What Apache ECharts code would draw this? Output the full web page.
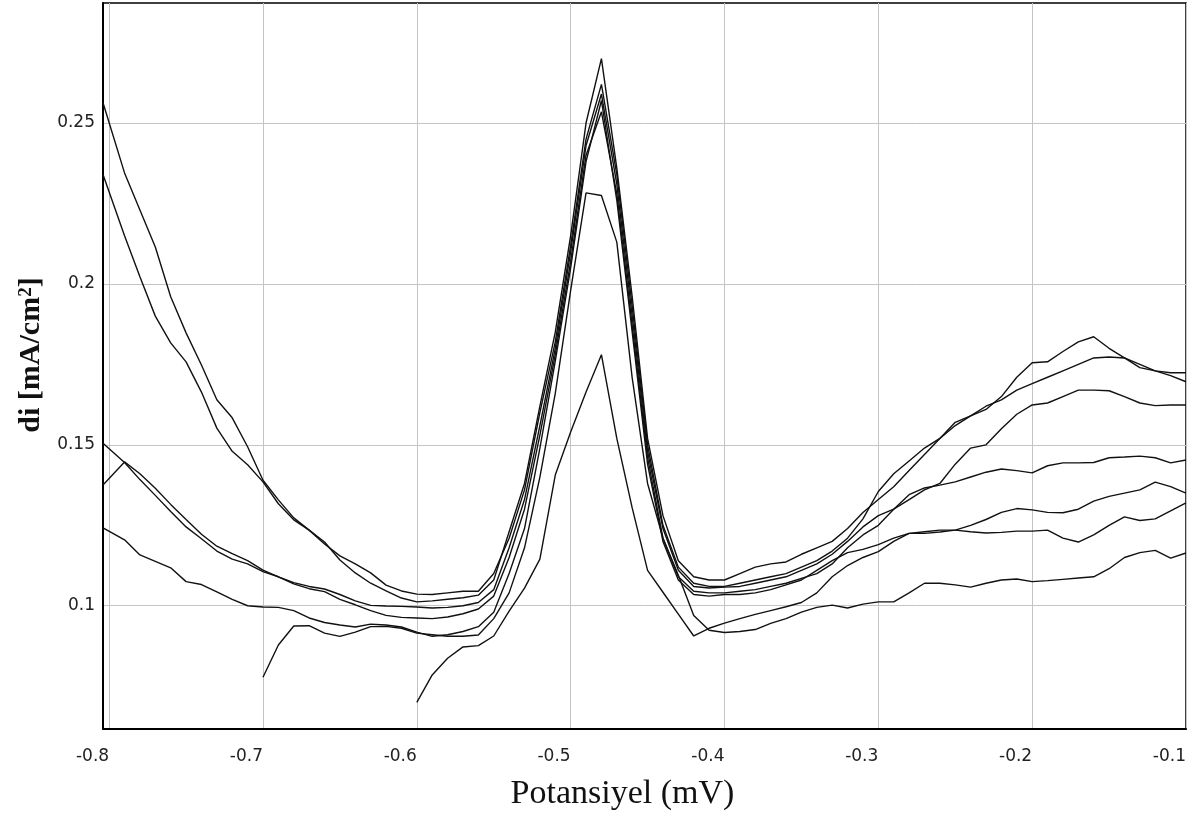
<!DOCTYPE html>
<html>
<head>
<meta charset="utf-8">
<script src="https://cdn.jsdelivr.net/npm/echarts@6/dist/echarts.min.js"></script>
<style>
  html, body { margin: 0; padding: 0; background: #fff; }
  #chart { width: 1194px; height: 823px; }
</style>
</head>
<body>
<div id="chart"></div>
<script>
// Potential values (mV) – shared x grid
const xs = [-0.804, -0.79, -0.78, -0.77, -0.76, -0.75, -0.74, -0.73, -0.72, -0.71,
  -0.70, -0.69, -0.68, -0.67, -0.66, -0.65, -0.64, -0.63, -0.62, -0.61,
  -0.60, -0.59, -0.58, -0.57, -0.56, -0.55, -0.54, -0.53, -0.52, -0.51,
  -0.50, -0.49, -0.48, -0.47, -0.46, -0.45, -0.44, -0.43, -0.42, -0.41,
  -0.40, -0.39, -0.38, -0.37, -0.36, -0.35, -0.34, -0.33, -0.32, -0.31,
  -0.30, -0.29, -0.28, -0.27, -0.26, -0.25, -0.24, -0.23, -0.22, -0.21,
  -0.20, -0.19, -0.18, -0.17, -0.16, -0.15, -0.14, -0.13, -0.12, -0.11, -0.10];

const xTicks = [-0.8, -0.7, -0.6, -0.5, -0.4, -0.3, -0.2, -0.1];
const yTicks = [0.1, 0.15, 0.2, 0.25];

const curveA = [0.2563, 0.2345, 0.223, 0.2115, 0.196, 0.1848, 0.1748, 0.164, 0.1584, 0.1494,
  0.139, 0.1329, 0.1273, 0.1235, 0.1192, 0.1155, 0.113, 0.1102, 0.1064, 0.1046,
  0.1036, 0.1035, 0.104, 0.1045, 0.1045, 0.110, 0.121, 0.136, 0.160, 0.182,
  0.212, 0.245, 0.262, 0.234, 0.193, 0.150, 0.125, 0.112, 0.107, 0.106,
  0.106, 0.107, 0.108, 0.109, 0.110, 0.112, 0.114, 0.117, 0.121, 0.127,
  0.1355, 0.141, 0.145, 0.149, 0.152, 0.156, 0.159, 0.162, 0.164, 0.167,
  0.169, 0.171, 0.173, 0.175, 0.177, 0.1773, 0.177, 0.175, 0.173, 0.1715, 0.1696];

const curveB = [0.234, 0.215, 0.2022, 0.190, 0.1817, 0.1758, 0.1664, 0.1552, 0.148, 0.1438,
  0.1385, 0.1317, 0.1267, 0.1235, 0.1198, 0.1142, 0.1102, 0.107, 0.1046, 0.1024,
  0.1012, 0.1015, 0.102, 0.1025, 0.1033, 0.108, 0.123, 0.138, 0.162, 0.185,
  0.215, 0.250, 0.270, 0.236, 0.196, 0.152, 0.128, 0.114, 0.109, 0.108,
  0.108, 0.110, 0.112, 0.113, 0.1136, 0.116, 0.118, 0.120, 0.124, 0.129,
  0.133, 0.137, 0.142, 0.147, 0.152, 0.157, 0.159, 0.161, 0.165, 0.171,
  0.1755, 0.1758, 0.179, 0.182, 0.1836, 0.180, 0.177, 0.174, 0.173, 0.1724, 0.1724];

const curveC = [0.1505, 0.1445, 0.1392, 0.1343, 0.1293, 0.1245, 0.1208, 0.117, 0.1145, 0.113,
  0.1106, 0.109, 0.1072, 0.106, 0.1052, 0.1035, 0.1015, 0.1001, 0.0999, 0.0998,
  0.0996, 0.0993, 0.0995, 0.100, 0.101, 0.105, 0.118, 0.133, 0.156, 0.180,
  0.210, 0.243, 0.259, 0.231, 0.190, 0.148, 0.124, 0.111, 0.106, 0.1055,
  0.1058, 0.106, 0.107, 0.108, 0.109, 0.111, 0.113, 0.116, 0.120, 0.1245,
  0.128, 0.130, 0.133, 0.136, 0.138, 0.144, 0.149, 0.150, 0.155, 0.1595,
  0.1624, 0.163, 0.165, 0.167, 0.167, 0.1668, 0.165, 0.163, 0.1622, 0.1624, 0.1624];

const curveD = [0.1375, 0.1447, 0.141, 0.1365, 0.1315, 0.1268, 0.1222, 0.1185, 0.1162, 0.114,
  0.1111, 0.109, 0.1068, 0.1053, 0.1044, 0.102, 0.1003, 0.0985, 0.097, 0.0964,
  0.0962, 0.096, 0.0965, 0.0975, 0.099, 0.103, 0.115, 0.130, 0.153, 0.178,
  0.207, 0.240, 0.2535, 0.228, 0.187, 0.146, 0.121, 0.109, 0.1045, 0.104,
  0.104, 0.1045, 0.105, 0.106, 0.107, 0.1085, 0.110, 0.113, 0.118, 0.122,
  0.125, 0.130, 0.1345, 0.1366, 0.1375, 0.1385, 0.140, 0.1415, 0.1425, 0.142,
  0.1413, 0.1435, 0.1444, 0.1444, 0.1445, 0.146, 0.1462, 0.1465, 0.146, 0.1444, 0.1453];

const curveE = [0.1242, 0.1205, 0.1158, 0.1138, 0.1118, 0.1075, 0.1066, 0.1043, 0.102, 0.100,
  0.0996, 0.0995, 0.0985, 0.0962, 0.0948, 0.094, 0.0934, 0.0943, 0.094, 0.0934,
  0.0918, 0.0905, 0.091, 0.092, 0.0935, 0.098, 0.110, 0.124, 0.149, 0.176,
  0.205, 0.238, 0.257, 0.226, 0.185, 0.144, 0.120, 0.108, 0.1035, 0.103,
  0.1035, 0.1035, 0.104, 0.105, 0.1065, 0.108, 0.111, 0.114, 0.1165, 0.1175,
  0.119, 0.121, 0.1225, 0.123, 0.1235, 0.1235, 0.123, 0.1226, 0.1228, 0.1232,
  0.1232, 0.1235, 0.121, 0.1198, 0.122, 0.125, 0.1276, 0.1265, 0.127, 0.1295, 0.132];

const curveF = [null, null, null, null, null, null, null, null, null, null,
  0.0778, 0.0878, 0.0937, 0.0938, 0.0915, 0.0905, 0.0918, 0.0935, 0.0936, 0.093,
  0.0915, 0.091, 0.0905, 0.0905, 0.0909, 0.096, 0.104, 0.118, 0.140, 0.166,
  0.198, 0.2283, 0.2275, 0.213, 0.1708, 0.138, 0.121, 0.1095, 0.097, 0.0924,
  0.0917, 0.092, 0.0926, 0.0945, 0.096, 0.098, 0.0995, 0.1002, 0.0993, 0.1005,
  0.1012, 0.1012, 0.104, 0.107, 0.107, 0.1065, 0.1058, 0.107, 0.108, 0.1083,
  0.1075, 0.1078, 0.1082, 0.1086, 0.109, 0.1115, 0.115, 0.1165, 0.1172, 0.1148, 0.1164];

const curveG = [null, null, null, null, null, null, null, null, null, null,
  null, null, null, null, null, null, null, null, null, null,
  0.070, 0.0785, 0.0837, 0.0872, 0.0876, 0.0906, 0.0983, 0.1055, 0.1145, 0.1406,
  0.154, 0.1664, 0.178, 0.152, 0.1304, 0.111, 0.1042, 0.0974, 0.0906, 0.093,
  0.0946, 0.096, 0.0973, 0.0985, 0.0997, 0.101, 0.104, 0.109, 0.1125, 0.115,
  0.1168, 0.120, 0.1225, 0.1225, 0.1229, 0.1235, 0.125, 0.1268, 0.129, 0.1302,
  0.1298, 0.129, 0.1289, 0.130, 0.1325, 0.134, 0.135, 0.136, 0.1384, 0.137, 0.135];

const curves = [curveA, curveB, curveC, curveD, curveE, curveF, curveG];

function pairs(ys) {
  const out = [];
  ys.forEach((y, i) => { if (y !== null) out.push([xs[i], y]); });
  return out;
}

const chart = echarts.init(document.getElementById('chart'), null, { renderer: 'canvas' });
chart.setOption({
  backgroundColor: '#ffffff',
  animation: false,
  grid: {
    left: 103, right: 8, top: 3, bottom: 94,
    show: true, borderColor: '#000', borderWidth: 1.5,
    containLabel: false, outerBoundsMode: 'none'
  },
  xAxis: {
    type: 'value',
    min: -0.804, max: -0.1,
    name: 'Potansiyel (mV)',
    nameLocation: 'middle',
    nameGap: 48,
    nameTextStyle: { fontFamily: 'Liberation Serif', fontSize: 34, color: '#111', padding: [0, 44, 0, 0] },
    axisLine: { show: true, onZero: false, lineStyle: { color: '#000', width: 2 } },
    axisTick: { show: false, customValues: xTicks },
    axisLabel: {
      customValues: xTicks,
      formatter: v => String(v).replace(/^(-?)0\./, '$10.'),
      align: 'right', margin: 19,
      fontFamily: 'DejaVu Sans', fontSize: 17, color: '#222'
    },
    splitLine: { show: true, lineStyle: { color: '#c4c4c4', width: 1 } }
  },
  yAxis: {
    type: 'value',
    min: 0.0617, max: 0.2873,
    name: '{b|di [mA/cm}{s|2}{b|]}',
    nameLocation: 'middle',
    nameGap: 55,
    nameTextStyle: {
      rich: {
        b: { fontFamily: 'Liberation Serif', fontWeight: 'bold', fontSize: 30, color: '#111' },
        s: { fontFamily: 'Liberation Serif', fontWeight: 'bold', fontSize: 19, color: '#111', verticalAlign: 'top' }
      },
      padding: [0, 0, 0, 22]
    },
    axisLine: { show: true, onZero: false, lineStyle: { color: '#000', width: 2 } },
    axisTick: { show: false, customValues: yTicks },
    axisLabel: {
      customValues: yTicks,
      margin: 8,
      fontFamily: 'DejaVu Sans', fontSize: 17, color: '#222'
    },
    splitLine: { show: true, lineStyle: { color: '#c4c4c4', width: 1 } }
  },
  series: curves.map(c => ({
    type: 'line',
    data: pairs(c),
    showSymbol: false,
    symbol: 'none',
    lineStyle: { color: '#111', width: 1.4 },
    silent: true
  }))
});
</script>
</body>
</html>
